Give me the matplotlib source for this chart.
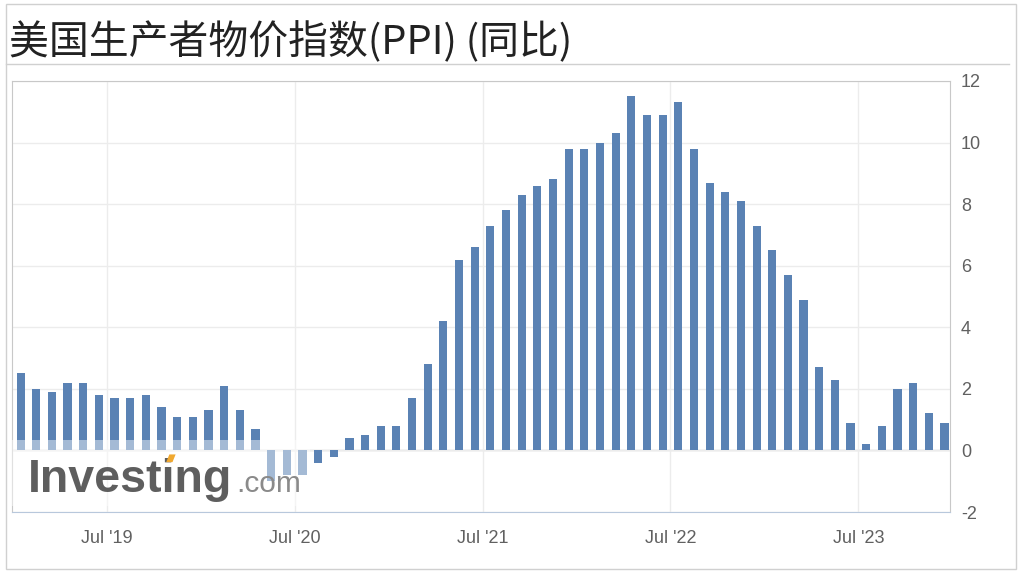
import matplotlib.pyplot as plt
from matplotlib.patches import Rectangle, Polygon

plt.rcParams['font.family'] = ['Noto Sans CJK SC', 'DejaVu Sans']
plt.rcParams['axes.unicode_minus'] = False

# 美国PPI同比, 2018年12月 - 2023年11月 (按公布日排列)
ppi_yoy = [2.5, 2.0, 1.9, 2.2, 2.2, 1.8, 1.7, 1.7, 1.8, 1.4, 1.1, 1.1,
           1.3, 2.1, 1.3, 0.7, -1.0, -0.8, -0.8, -0.4, -0.2, 0.4, 0.5, 0.8,
           0.8, 1.7, 2.8, 4.2, 6.2, 6.6, 7.3, 7.8, 8.3, 8.6, 8.8, 9.8,
           9.8, 10.0, 10.3, 11.5, 10.9, 10.9, 11.3, 9.8, 8.7, 8.4, 8.1, 7.3,
           6.5, 5.7, 4.9, 2.7, 2.3, 0.9, 0.2, 0.8, 2.0, 2.2, 1.2, 0.9]
tick_pos = [5.5, 17.5, 29.5, 41.5, 53.5]
tick_labels = ["Jul '19", "Jul '20", "Jul '21", "Jul '22", "Jul '23"]
y_ticks = [-2, 0, 2, 4, 6, 8, 10, 12]

fig = plt.figure(figsize=(10.24, 5.74), dpi=100)
fig.patch.set_facecolor('white')

# 外框和标题分隔线
fig.add_artist(Rectangle((0.006, 0.008), 0.986, 0.985, transform=fig.transFigure,
                         fill=False, edgecolor='#d0d0d0', lw=1))
fig.add_artist(plt.Line2D([0.006, 0.985], [0.888, 0.888], transform=fig.transFigure,
                          color='#d0d0d0', lw=1))
fig.text(0.009, 0.927, '美国生产者物价指数(PPI) (同比)', fontsize=28.7, color='#222222',
         va='center', ha='left')

ax = fig.add_axes([0.0117, 0.108, 0.916, 0.751])
x = list(range(len(ppi_yoy)))
ax.bar(x, ppi_yoy, width=0.52, color='#5a82b4', zorder=2)

ax.set_xlim(-0.55, 59.35)
ax.set_ylim(-2, 12)
ax.set_yticks(y_ticks)
ax.set_xticks(tick_pos)
ax.set_xticklabels(tick_labels)
ax.yaxis.tick_right()
for lbl in ax.get_xticklabels() + ax.get_yticklabels():
    lbl.set_family('Liberation Sans')
ax.tick_params(axis='both', length=0, labelsize=13, colors='#606060')
ax.tick_params(axis='y', pad=8)
ax.tick_params(axis='x', pad=13)
ax.grid(True, color='#ececec', lw=1, zorder=0)
ax.axhline(0, color='#c8c8c8', lw=1, zorder=1)
for side in ['left', 'top', 'right']:
    ax.spines[side].set_color('#c8c8c8')
ax.spines['bottom'].set_color('#b8c8dc')

# 水印
ax.add_patch(Rectangle((-0.55, -1.8), 19.0, 2.15, facecolor='white', alpha=0.45,
                       edgecolor='none', zorder=3))
ax.text(0.45, -1.35, 'Investing', fontsize=33.5, fontweight='bold', color='#5e5e5e',
        family='Liberation Sans', va='baseline', ha='left', zorder=4)
ax.text(13.75, -1.35, '.com', fontsize=21.5, color='#8a8a8a',
        family='Liberation Sans', va='baseline', ha='left', zorder=4)
ax.add_patch(Polygon([(9.3, -0.38), (9.7, -0.38), (9.9, -0.13), (9.5, -0.13)],
                     closed=True, facecolor='#f0a830', edgecolor='none', zorder=5))

fig.savefig('out.png', dpi=100)
